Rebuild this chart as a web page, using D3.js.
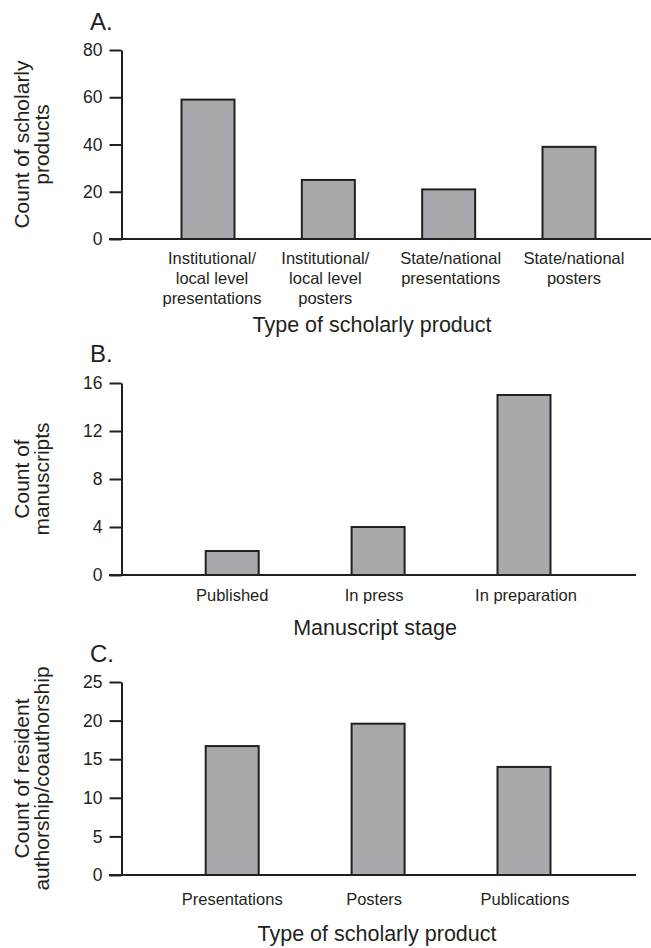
<!DOCTYPE html>
<html>
<head>
<meta charset="utf-8">
<script src="https://cdnjs.cloudflare.com/ajax/libs/d3/7.8.5/d3.min.js"></script>
<style>
  body { margin: 0; background: #fff; }
  svg { display: block; font-family: "Liberation Sans", Arial, Helvetica, sans-serif; }
</style>
</head>
<body>
<div id="chart"></div>
<script>
/* global d3 */

// panel A
var productLabels = [
  ["Institutional/", "local level", "presentations"],
  ["Institutional/", "local level", "posters"],
  ["State/national", "presentations"],
  ["State/national", "posters"]
];
var productCounts = [59, 25, 21, 39];
var productTicks = [0, 20, 40, 60, 80];

// panel B
var manuscriptStages = [["Published"], ["In press"], ["In preparation"]];
var manuscriptCounts = [2, 4, 15];
var manuscriptTicks = [0, 4, 8, 12, 16];

// panel C
var authorshipTypes = [["Presentations"], ["Posters"], ["Publications"]];
var authorshipCounts = [16.7, 19.6, 14];
var authorshipTicks = [0, 5, 10, 15, 20, 25];

var ink = "#231f20";
var barFill = "#a7a9ac";

var svg = d3
  .select("#chart")
  .append("svg")
  .attr("width", 651)
  .attr("height", 948);

var drawPanel = function(opts) {
  var g = svg.append("g");
  var names = opts.labels.map(function(l) {
    return l.join(" ");
  });

  var x = d3
    .scalePoint()
    .domain(names)
    .range(opts.xRange);

  var y = d3
    .scaleLinear()
    .domain([0, opts.ticks[opts.ticks.length - 1]])
    .range([opts.bottom, opts.top]);

  // bars
  g.selectAll("rect.bar")
    .data(opts.values)
    .enter()
    .append("rect")
    .attr("class", "bar")
    .attr("x", function(d, i) {
      return x(names[i]) - 26.5;
    })
    .attr("y", function(d) {
      return y(d);
    })
    .attr("width", 53)
    .attr("height", function(d) {
      return y(0) - y(d);
    })
    .style("fill", barFill)
    .style("stroke", ink)
    .style("stroke-width", 2);

  // y axis
  var axis = g
    .append("g")
    .attr("transform", "translate(121.5,0)")
    .call(
      d3
        .axisLeft(y)
        .tickValues(opts.ticks)
        .tickSizeInner(12)
        .tickSizeOuter(0)
        .tickPadding(7)
    );
  axis.selectAll("path, line")
    .style("stroke", ink)
    .style("stroke-width", 2);
  axis.selectAll("text")
    .style("font-size", "17.5px")
    .style("font-family", "inherit")
    .style("fill", ink);

  // baseline
  g.append("line")
    .attr("x1", 109)
    .attr("x2", opts.baseEnd)
    .attr("y1", y(0))
    .attr("y2", y(0))
    .style("stroke", ink)
    .style("stroke-width", 2);

  // category labels
  opts.labels.forEach(function(lines, i) {
    var t = g
      .append("text")
      .attr("x", x(names[i]) + opts.labelShift[i])
      .attr("y", opts.labelY)
      .attr("text-anchor", "middle")
      .style("font-size", "16.5px")
      .style("fill", ink);
    lines.forEach(function(line, j) {
      t.append("tspan")
        .attr("x", x(names[i]) + opts.labelShift[i])
        .attr("dy", j === 0 ? 0 : 20)
        .text(line);
    });
  });

  // x title
  g.append("text")
    .attr("x", opts.titleX)
    .attr("y", opts.titleY)
    .attr("text-anchor", "middle")
    .style("font-size", "21.5px")
    .style("fill", ink)
    .text(opts.xTitle);

  // y title
  var mid = (opts.top + opts.bottom) / 2;
  opts.yTitle.forEach(function(line, j) {
    g.append("text")
      .attr("transform", "translate(" + (29 + j * 20) + "," + mid + ") rotate(-90)")
      .attr("text-anchor", "middle")
      .style("font-size", "21px")
      .style("fill", ink)
      .text(line);
  });

  // panel letter
  g.append("text")
    .attr("x", 90)
    .attr("y", opts.letterY)
    .style("font-size", "24px")
    .style("fill", ink)
    .text(opts.letter);
};

drawPanel({
  letter: "A.",
  letterY: 30,
  labels: productLabels,
  values: productCounts,
  ticks: productTicks,
  top: 50,
  bottom: 239,
  xRange: [208, 569],
  labelShift: [4, -3, 2, 5],
  labelY: 264,
  baseEnd: 651,
  xTitle: "Type of scholarly product",
  titleX: 372,
  titleY: 332,
  yTitle: ["Count of scholarly", "products"]
});

drawPanel({
  letter: "B.",
  letterY: 362,
  labels: manuscriptStages,
  values: manuscriptCounts,
  ticks: manuscriptTicks,
  top: 383,
  bottom: 575,
  xRange: [232.2, 524],
  labelShift: [0, -4, 2],
  labelY: 601,
  baseEnd: 636,
  xTitle: "Manuscript stage",
  titleX: 375,
  titleY: 635,
  yTitle: ["Count of", "manuscripts"]
});

drawPanel({
  letter: "C.",
  letterY: 662,
  labels: authorshipTypes,
  values: authorshipCounts,
  ticks: authorshipTicks,
  top: 682,
  bottom: 875,
  xRange: [232.2, 524],
  labelShift: [0, -4, 1],
  labelY: 905,
  baseEnd: 636,
  xTitle: "Type of scholarly product",
  titleX: 377,
  titleY: 941,
  yTitle: ["Count of resident", "authorship/coauthorship"]
});
</script>
</body>
</html>
